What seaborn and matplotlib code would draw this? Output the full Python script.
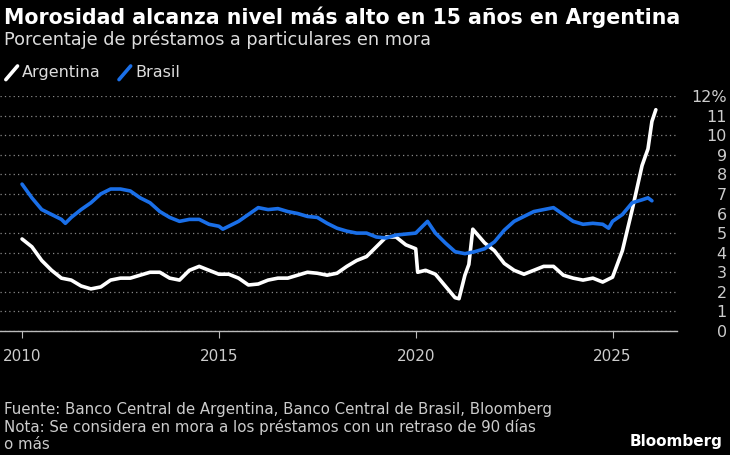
import matplotlib
matplotlib.use('Agg')
import matplotlib.pyplot as plt
import seaborn as sns
import pandas as pd

# Argentina: (year, % in mora)
arg_year = [2010.0, 2010.25, 2010.5, 2010.75, 2011.0, 2011.25, 2011.5, 2011.75, 2012.0, 2012.25,
            2012.5, 2012.75, 2013.0, 2013.25, 2013.5, 2013.75, 2014.0, 2014.25, 2014.5, 2014.75,
            2015.0, 2015.25, 2015.5, 2015.75, 2016.0, 2016.25, 2016.5, 2016.75, 2017.0, 2017.25,
            2017.5, 2017.75, 2018.0, 2018.25, 2018.5, 2018.75, 2019.0, 2019.25, 2019.5, 2019.75,
            2020.0, 2020.05, 2020.25, 2020.5, 2020.75, 2021.0, 2021.1, 2021.25, 2021.35, 2021.45,
            2021.75, 2022.0, 2022.25, 2022.5, 2022.75, 2023.0, 2023.25, 2023.5, 2023.75, 2024.0,
            2024.25, 2024.5, 2024.75, 2025.0, 2025.25, 2025.5, 2025.75, 2025.9, 2026.0, 2026.1]
arg_val = [4.7, 4.3, 3.6, 3.1, 2.7, 2.6, 2.3, 2.15, 2.25, 2.6,
           2.7, 2.7, 2.85, 3.0, 3.0, 2.7, 2.6, 3.1, 3.3, 3.1,
           2.9, 2.9, 2.7, 2.35, 2.4, 2.6, 2.7, 2.7, 2.85, 3.0,
           2.95, 2.85, 2.95, 3.3, 3.6, 3.8, 4.3, 4.8, 4.8, 4.4,
           4.2, 3.0, 3.1, 2.9, 2.3, 1.7, 1.65, 2.85, 3.4, 5.2,
           4.5, 4.1, 3.45, 3.1, 2.9, 3.1, 3.3, 3.3, 2.85, 2.7,
           2.6, 2.7, 2.5, 2.75, 4.1, 6.2, 8.45, 9.3, 10.7, 11.3]

# Brasil
bra_year = [2010.0, 2010.25, 2010.5, 2010.75, 2011.0, 2011.1, 2011.25, 2011.5, 2011.75, 2012.0,
            2012.25, 2012.5, 2012.75, 2013.0, 2013.25, 2013.5, 2013.75, 2014.0, 2014.25, 2014.5,
            2014.75, 2015.0, 2015.1, 2015.25, 2015.5, 2015.75, 2016.0, 2016.25, 2016.5, 2016.75,
            2017.0, 2017.25, 2017.5, 2017.75, 2018.0, 2018.25, 2018.5, 2018.75, 2019.0, 2019.25,
            2019.5, 2019.75, 2020.0, 2020.25, 2020.3, 2020.5, 2020.75, 2021.0, 2021.25, 2021.5,
            2021.75, 2022.0, 2022.25, 2022.5, 2022.75, 2023.0, 2023.25, 2023.5, 2023.75, 2024.0,
            2024.25, 2024.5, 2024.75, 2024.9, 2025.0, 2025.25, 2025.5, 2025.75, 2025.9, 2026.0]
bra_val = [7.5, 6.8, 6.2, 5.95, 5.7, 5.5, 5.8, 6.2, 6.55, 7.0,
           7.25, 7.25, 7.15, 6.8, 6.55, 6.1, 5.8, 5.6, 5.7, 5.7,
           5.45, 5.35, 5.2, 5.35, 5.6, 5.95, 6.3, 6.2, 6.25, 6.1,
           6.0, 5.85, 5.8, 5.5, 5.25, 5.1, 5.0, 5.0, 4.8, 4.75,
           4.9, 4.95, 5.0, 5.5, 5.6, 5.0, 4.5, 4.05, 3.95, 4.05,
           4.2, 4.55, 5.15, 5.6, 5.85, 6.1, 6.2, 6.3, 5.95, 5.6,
           5.45, 5.5, 5.45, 5.25, 5.6, 5.95, 6.55, 6.7, 6.8, 6.65]

x_ticks = [2010, 2015, 2020, 2025]
y_ticks = list(range(13))
y_labels = [str(v) for v in range(12)] + ['12%']

df = pd.concat([
    pd.DataFrame({'year': arg_year, 'val': arg_val, 'pais': 'Argentina'}),
    pd.DataFrame({'year': bra_year, 'val': bra_val, 'pais': 'Brasil'}),
])

sns.set_style('dark')
plt.rcParams['font.family'] = ['DejaVu Sans']
fig = plt.figure(figsize=(7.3, 4.55), dpi=100, facecolor='black')
ax = fig.add_axes([0.0, 0.2725, 0.927, 0.5165], facecolor='black')

sns.lineplot(data=df, x='year', y='val', hue='pais', sort=False,
             palette={'Argentina': 'white', 'Brasil': '#1a6fe8'},
             linewidth=2.6, legend=False, ax=ax)

ax.set_xlim(2009.44, 2026.63)
ax.set_ylim(0, 12)
ax.set_xticks(x_ticks)
ax.set_xticklabels([str(t) for t in x_ticks])
ax.set_yticks(y_ticks)
ax.set_yticklabels(y_labels)
ax.yaxis.tick_right()
ax.tick_params(axis='y', length=0, pad=36, labelsize=11.5, labelcolor='#cccccc')
ax.tick_params(axis='x', length=5, color='#bbbbbb', labelsize=11, labelcolor='#cccccc', pad=8, bottom=True)
for lbl in ax.get_yticklabels():
    lbl.set_horizontalalignment('right')
ax.grid(axis='y', color='#888888', linestyle=(0, (1, 2.5)), linewidth=0.9)
ax.grid(axis='x', visible=False)
ax.set_xlabel('')
ax.set_ylabel('')
for s in ['top', 'left', 'right']:
    ax.spines[s].set_visible(False)
ax.spines['bottom'].set_color('#bbbbbb')
ax.spines['bottom'].set_linewidth(1)

fig.text(0.005, 0.963, 'Morosidad alcanza nivel más alto en 15 años en Argentina',
         color='white', fontsize=14.8, fontweight='bold', va='center')
fig.text(0.005, 0.913, 'Porcentaje de préstamos a particulares en mora',
         color='#dddddd', fontsize=12.7, va='center')

# legend
fig.lines.append(plt.Line2D([0.008, 0.024], [0.825, 0.855], color='white', lw=2.6, transform=fig.transFigure))
fig.text(0.03, 0.84, 'Argentina', color='#dddddd', fontsize=11.5, va='center')
fig.lines.append(plt.Line2D([0.163, 0.179], [0.825, 0.855], color='#1a6fe8', lw=2.6, transform=fig.transFigure))
fig.text(0.185, 0.84, 'Brasil', color='#dddddd', fontsize=11.5, va='center')

fig.text(0.005, 0.0615, 'Fuente: Banco Central de Argentina, Banco Central de Brasil, Bloomberg\n'
         'Nota: Se considera en mora a los préstamos con un retraso de 90 días\no más',
         color='#cccccc', fontsize=10.8, va='center', linespacing=1.15)
fig.text(0.99, 0.03, 'Bloomberg', color='white', fontsize=11, fontweight='bold', ha='right', va='center')

fig.savefig('out.png', dpi=100, facecolor='black')
